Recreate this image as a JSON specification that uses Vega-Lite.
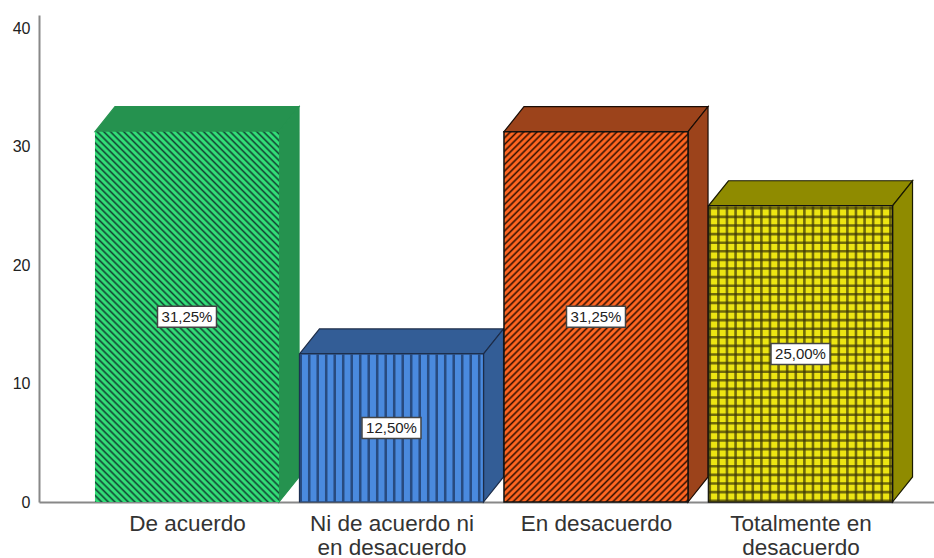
{"$schema":"https://vega.github.io/schema/vega-lite/v6.json","width":895,"height":487,"autosize":"none","padding":{"left":39,"top":15,"right":0,"bottom":56},"background":"white","config":{"view":{"stroke":null},"font":"Liberation Sans"},
"datasets":{"d":[{"cat":"De acuerdo","i":1,"pct":31.25,"label":"31,25%"},{"cat":"Ni de acuerdo ni en desacuerdo","i":2,"pct":12.5,"label":"12,50%"},{"cat":"En desacuerdo","i":3,"pct":31.25,"label":"31,25%"},{"cat":"Totalmente en desacuerdo","i":4,"pct":25,"label":"25,00%"}]},
"data":{"name":"d"},
"transform":[{"calculate":"datum.i-0.45","as":"a"},{"calculate":"datum.i+0.45","as":"b"},{"calculate":"0","as":"zero"},{"calculate":"datum.pct/2","as":"mid"}],
"resolve":{"scale":{"x":"shared","y":"shared"}},
"layer":[
{"transform":[{"calculate":"[datum.a,datum.a+0.0978,datum.b,datum.b+0.0978]","as":"xs"},{"calculate":"[datum.pct,datum.pct,datum.pct,datum.pct+2.11]","as":"lo"},{"calculate":"[datum.pct,datum.pct+2.11,datum.pct+2.11,datum.pct+2.11]","as":"hi"},{"flatten":["xs","lo","hi"]}],
"mark":{"type":"area","strokeWidth":1.2,"interpolate":"linear"},
"encoding":{"x":{"field":"xs","type":"quantitative","scale":{"domain":[0.2763,4.6528],"nice":false,"zero":false},"axis":{"values":[1,2,3,4],"title":null,"grid":false,"ticks":false,"domainColor":"#888888","domainWidth":2,"labelColor":"#333333","labelFont":"Liberation Sans","labelFontSize":22.5,"labelPadding":10,"labelLineHeight":24,"labelOverlap":false,"labelBound":false,"labelFlush":false,"labelBaseline":"top","labelExpr":"datum.value==1?'De acuerdo':datum.value==2?['Ni de acuerdo ni','en desacuerdo']:datum.value==3?'En desacuerdo':['Totalmente en','desacuerdo']"}},
"y":{"field":"lo","type":"quantitative","stack":null,"scale":{"domain":[0,41.1],"nice":false},"axis":{"values":[0,10,20,30,40],"title":null,"grid":false,"ticks":false,"domainColor":"#888888","domainWidth":2,"labelColor":"#222222","labelFont":"Liberation Sans","labelFontSize":16,"labelPadding":9}},"y2":{"field":"hi"},
"fill":{"field":"cat","type":"nominal","legend":null,"scale":{"domain":["De acuerdo","Ni de acuerdo ni en desacuerdo","En desacuerdo","Totalmente en desacuerdo"],"range":["#25924f","#335d96","#9c431b","#8f8b00"]}},
"stroke":{"field":"cat","type":"nominal","legend":null,"scale":{"domain":["De acuerdo","Ni de acuerdo ni en desacuerdo","En desacuerdo","Totalmente en desacuerdo"],"range":["#25924f","#1c2c48","#1a0c05","#1a1a00"]}}}},
{"transform":[{"calculate":"[datum.b,datum.b+0.0978]","as":"xs"},{"calculate":"[0,2.11]","as":"lo"},{"calculate":"[datum.pct,datum.pct+2.11]","as":"hi"},{"flatten":["xs","lo","hi"]}],
"mark":{"type":"area","strokeWidth":1.2,"interpolate":"linear"},
"encoding":{"x":{"field":"xs","type":"quantitative"},"y":{"field":"lo","type":"quantitative","stack":null},"y2":{"field":"hi"},
"fill":{"field":"cat","type":"nominal","legend":null},"stroke":{"field":"cat","type":"nominal","legend":null}}},
{"transform":[{"filter":"datum.i==1"}],"mark":{"type":"rect","fill":{"gradient":"linear","x1":0,"y1":1,"x2":0.5965,"y2":-0.2005,"stops":[{"offset":0,"color":"#143"},{"offset":0.004,"color":"#3d7"},{"offset":0.008,"color":"#3d7"},{"offset":0.012,"color":"#143"},{"offset":0.016,"color":"#3d7"},{"offset":0.02,"color":"#3d7"},{"offset":0.024,"color":"#143"},{"offset":0.028,"color":"#3d7"},{"offset":0.032,"color":"#3d7"},{"offset":0.036,"color":"#143"},{"offset":0.04,"color":"#3d7"},{"offset":0.044,"color":"#3d7"},{"offset":0.048,"color":"#143"},{"offset":0.052,"color":"#3d7"},{"offset":0.056,"color":"#3d7"},{"offset":0.06,"color":"#143"},{"offset":0.064,"color":"#3d7"},{"offset":0.068,"color":"#3d7"},{"offset":0.072,"color":"#143"},{"offset":0.076,"color":"#3d7"},{"offset":0.08,"color":"#3d7"},{"offset":0.084,"color":"#143"},{"offset":0.088,"color":"#3d7"},{"offset":0.092,"color":"#3d7"},{"offset":0.096,"color":"#143"},{"offset":0.1,"color":"#3d7"},{"offset":0.104,"color":"#3d7"},{"offset":0.108,"color":"#143"},{"offset":0.112,"color":"#3d7"},{"offset":0.116,"color":"#3d7"},{"offset":0.12,"color":"#143"},{"offset":0.124,"color":"#3d7"},{"offset":0.128,"color":"#3d7"},{"offset":0.132,"color":"#143"},{"offset":0.136,"color":"#3d7"},{"offset":0.14,"color":"#3d7"},{"offset":0.144,"color":"#143"},{"offset":0.148,"color":"#3d7"},{"offset":0.152,"color":"#3d7"},{"offset":0.156,"color":"#143"},{"offset":0.16,"color":"#3d7"},{"offset":0.164,"color":"#3d7"},{"offset":0.168,"color":"#143"},{"offset":0.172,"color":"#3d7"},{"offset":0.176,"color":"#3d7"},{"offset":0.18,"color":"#143"},{"offset":0.184,"color":"#3d7"},{"offset":0.188,"color":"#3d7"},{"offset":0.192,"color":"#143"},{"offset":0.196,"color":"#3d7"},{"offset":0.2,"color":"#3d7"},{"offset":0.204,"color":"#143"},{"offset":0.208,"color":"#3d7"},{"offset":0.212,"color":"#3d7"},{"offset":0.216,"color":"#143"},{"offset":0.22,"color":"#3d7"},{"offset":0.224,"color":"#3d7"},{"offset":0.228,"color":"#143"},{"offset":0.232,"color":"#3d7"},{"offset":0.236,"color":"#3d7"},{"offset":0.24,"color":"#143"},{"offset":0.244,"color":"#3d7"},{"offset":0.248,"color":"#3d7"},{"offset":0.252,"color":"#143"},{"offset":0.256,"color":"#3d7"},{"offset":0.26,"color":"#3d7"},{"offset":0.264,"color":"#143"},{"offset":0.268,"color":"#3d7"},{"offset":0.272,"color":"#3d7"},{"offset":0.276,"color":"#143"},{"offset":0.28,"color":"#3d7"},{"offset":0.284,"color":"#3d7"},{"offset":0.288,"color":"#143"},{"offset":0.292,"color":"#3d7"},{"offset":0.296,"color":"#3d7"},{"offset":0.3,"color":"#143"},{"offset":0.304,"color":"#3d7"},{"offset":0.308,"color":"#3d7"},{"offset":0.312,"color":"#143"},{"offset":0.316,"color":"#3d7"},{"offset":0.32,"color":"#3d7"},{"offset":0.324,"color":"#143"},{"offset":0.328,"color":"#3d7"},{"offset":0.332,"color":"#3d7"},{"offset":0.336,"color":"#143"},{"offset":0.34,"color":"#3d7"},{"offset":0.344,"color":"#3d7"},{"offset":0.348,"color":"#143"},{"offset":0.352,"color":"#3d7"},{"offset":0.356,"color":"#3d7"},{"offset":0.36,"color":"#143"},{"offset":0.364,"color":"#3d7"},{"offset":0.368,"color":"#3d7"},{"offset":0.372,"color":"#143"},{"offset":0.376,"color":"#3d7"},{"offset":0.38,"color":"#3d7"},{"offset":0.384,"color":"#143"},{"offset":0.388,"color":"#3d7"},{"offset":0.392,"color":"#3d7"},{"offset":0.396,"color":"#143"},{"offset":0.4,"color":"#3d7"},{"offset":0.404,"color":"#3d7"},{"offset":0.408,"color":"#143"},{"offset":0.412,"color":"#3d7"},{"offset":0.416,"color":"#3d7"},{"offset":0.42,"color":"#143"},{"offset":0.424,"color":"#3d7"},{"offset":0.428,"color":"#3d7"},{"offset":0.432,"color":"#143"},{"offset":0.436,"color":"#3d7"},{"offset":0.44,"color":"#3d7"},{"offset":0.444,"color":"#143"},{"offset":0.448,"color":"#3d7"},{"offset":0.452,"color":"#3d7"},{"offset":0.456,"color":"#143"},{"offset":0.46,"color":"#3d7"},{"offset":0.464,"color":"#3d7"},{"offset":0.468,"color":"#143"},{"offset":0.472,"color":"#3d7"},{"offset":0.476,"color":"#3d7"},{"offset":0.48,"color":"#143"},{"offset":0.484,"color":"#3d7"},{"offset":0.488,"color":"#3d7"},{"offset":0.492,"color":"#143"},{"offset":0.496,"color":"#3d7"},{"offset":0.5,"color":"#3d7"},{"offset":0.504,"color":"#143"},{"offset":0.508,"color":"#3d7"},{"offset":0.512,"color":"#3d7"},{"offset":0.516,"color":"#143"},{"offset":0.52,"color":"#3d7"},{"offset":0.524,"color":"#3d7"},{"offset":0.528,"color":"#143"},{"offset":0.532,"color":"#3d7"},{"offset":0.536,"color":"#3d7"},{"offset":0.54,"color":"#143"},{"offset":0.544,"color":"#3d7"},{"offset":0.548,"color":"#3d7"},{"offset":0.552,"color":"#143"},{"offset":0.556,"color":"#3d7"},{"offset":0.56,"color":"#3d7"},{"offset":0.564,"color":"#143"},{"offset":0.568,"color":"#3d7"},{"offset":0.572,"color":"#3d7"},{"offset":0.576,"color":"#143"},{"offset":0.58,"color":"#3d7"},{"offset":0.584,"color":"#3d7"},{"offset":0.588,"color":"#143"},{"offset":0.592,"color":"#3d7"},{"offset":0.596,"color":"#3d7"},{"offset":0.6,"color":"#143"},{"offset":0.604,"color":"#3d7"},{"offset":0.608,"color":"#3d7"},{"offset":0.612,"color":"#143"},{"offset":0.616,"color":"#3d7"},{"offset":0.62,"color":"#3d7"},{"offset":0.624,"color":"#143"},{"offset":0.628,"color":"#3d7"},{"offset":0.632,"color":"#3d7"},{"offset":0.636,"color":"#143"},{"offset":0.64,"color":"#3d7"},{"offset":0.644,"color":"#3d7"},{"offset":0.648,"color":"#143"},{"offset":0.652,"color":"#3d7"},{"offset":0.656,"color":"#3d7"},{"offset":0.66,"color":"#143"},{"offset":0.664,"color":"#3d7"},{"offset":0.668,"color":"#3d7"},{"offset":0.672,"color":"#143"},{"offset":0.676,"color":"#3d7"},{"offset":0.68,"color":"#3d7"},{"offset":0.684,"color":"#143"},{"offset":0.688,"color":"#3d7"},{"offset":0.692,"color":"#3d7"},{"offset":0.696,"color":"#143"},{"offset":0.7,"color":"#3d7"},{"offset":0.704,"color":"#3d7"},{"offset":0.708,"color":"#143"},{"offset":0.712,"color":"#3d7"},{"offset":0.716,"color":"#3d7"},{"offset":0.72,"color":"#143"},{"offset":0.724,"color":"#3d7"},{"offset":0.728,"color":"#3d7"},{"offset":0.732,"color":"#143"},{"offset":0.736,"color":"#3d7"},{"offset":0.74,"color":"#3d7"},{"offset":0.744,"color":"#143"},{"offset":0.748,"color":"#3d7"},{"offset":0.752,"color":"#3d7"},{"offset":0.756,"color":"#143"},{"offset":0.76,"color":"#3d7"},{"offset":0.764,"color":"#3d7"},{"offset":0.768,"color":"#143"},{"offset":0.772,"color":"#3d7"},{"offset":0.776,"color":"#3d7"},{"offset":0.78,"color":"#143"},{"offset":0.784,"color":"#3d7"},{"offset":0.788,"color":"#3d7"},{"offset":0.792,"color":"#143"},{"offset":0.796,"color":"#3d7"},{"offset":0.8,"color":"#3d7"},{"offset":0.804,"color":"#143"},{"offset":0.808,"color":"#3d7"},{"offset":0.812,"color":"#3d7"},{"offset":0.816,"color":"#143"},{"offset":0.82,"color":"#3d7"},{"offset":0.824,"color":"#3d7"},{"offset":0.828,"color":"#143"},{"offset":0.832,"color":"#3d7"},{"offset":0.836,"color":"#3d7"},{"offset":0.84,"color":"#143"},{"offset":0.844,"color":"#3d7"},{"offset":0.848,"color":"#3d7"},{"offset":0.852,"color":"#143"},{"offset":0.856,"color":"#3d7"},{"offset":0.86,"color":"#3d7"},{"offset":0.864,"color":"#143"},{"offset":0.868,"color":"#3d7"},{"offset":0.872,"color":"#3d7"},{"offset":0.876,"color":"#143"},{"offset":0.88,"color":"#3d7"},{"offset":0.884,"color":"#3d7"},{"offset":0.888,"color":"#143"},{"offset":0.892,"color":"#3d7"},{"offset":0.896,"color":"#3d7"},{"offset":0.9,"color":"#143"},{"offset":0.904,"color":"#3d7"},{"offset":0.908,"color":"#3d7"},{"offset":0.912,"color":"#143"},{"offset":0.916,"color":"#3d7"},{"offset":0.92,"color":"#3d7"},{"offset":0.924,"color":"#143"},{"offset":0.928,"color":"#3d7"},{"offset":0.932,"color":"#3d7"},{"offset":0.936,"color":"#143"},{"offset":0.94,"color":"#3d7"},{"offset":0.944,"color":"#3d7"},{"offset":0.948,"color":"#143"},{"offset":0.952,"color":"#3d7"},{"offset":0.956,"color":"#3d7"},{"offset":0.96,"color":"#143"},{"offset":0.964,"color":"#3d7"},{"offset":0.968,"color":"#3d7"},{"offset":0.972,"color":"#143"},{"offset":0.976,"color":"#3d7"},{"offset":0.98,"color":"#3d7"},{"offset":0.984,"color":"#143"},{"offset":0.988,"color":"#3d7"},{"offset":0.992,"color":"#3d7"},{"offset":0.996,"color":"#143"},{"offset":1,"color":"#3d7"}]}},"encoding":{"x":{"field":"a","type":"quantitative"},"x2":{"field":"b"},"y":{"field":"zero","type":"quantitative"},"y2":{"field":"pct"}}},
{"transform":[{"filter":"datum.i==3"}],"mark":{"type":"rect","stroke":"#111111","strokeWidth":1.5,"fill":{"gradient":"linear","x1":0,"y1":0,"x2":0.5965,"y2":1.2005,"stops":[{"offset":0,"color":"#310"},{"offset":0.004,"color":"#f62"},{"offset":0.008,"color":"#f62"},{"offset":0.012,"color":"#310"},{"offset":0.016,"color":"#f62"},{"offset":0.02,"color":"#f62"},{"offset":0.024,"color":"#310"},{"offset":0.028,"color":"#f62"},{"offset":0.032,"color":"#f62"},{"offset":0.036,"color":"#310"},{"offset":0.04,"color":"#f62"},{"offset":0.044,"color":"#f62"},{"offset":0.048,"color":"#310"},{"offset":0.052,"color":"#f62"},{"offset":0.056,"color":"#f62"},{"offset":0.06,"color":"#310"},{"offset":0.064,"color":"#f62"},{"offset":0.068,"color":"#f62"},{"offset":0.072,"color":"#310"},{"offset":0.076,"color":"#f62"},{"offset":0.08,"color":"#f62"},{"offset":0.084,"color":"#310"},{"offset":0.088,"color":"#f62"},{"offset":0.092,"color":"#f62"},{"offset":0.096,"color":"#310"},{"offset":0.1,"color":"#f62"},{"offset":0.104,"color":"#f62"},{"offset":0.108,"color":"#310"},{"offset":0.112,"color":"#f62"},{"offset":0.116,"color":"#f62"},{"offset":0.12,"color":"#310"},{"offset":0.124,"color":"#f62"},{"offset":0.128,"color":"#f62"},{"offset":0.132,"color":"#310"},{"offset":0.136,"color":"#f62"},{"offset":0.14,"color":"#f62"},{"offset":0.144,"color":"#310"},{"offset":0.148,"color":"#f62"},{"offset":0.152,"color":"#f62"},{"offset":0.156,"color":"#310"},{"offset":0.16,"color":"#f62"},{"offset":0.164,"color":"#f62"},{"offset":0.168,"color":"#310"},{"offset":0.172,"color":"#f62"},{"offset":0.176,"color":"#f62"},{"offset":0.18,"color":"#310"},{"offset":0.184,"color":"#f62"},{"offset":0.188,"color":"#f62"},{"offset":0.192,"color":"#310"},{"offset":0.196,"color":"#f62"},{"offset":0.2,"color":"#f62"},{"offset":0.204,"color":"#310"},{"offset":0.208,"color":"#f62"},{"offset":0.212,"color":"#f62"},{"offset":0.216,"color":"#310"},{"offset":0.22,"color":"#f62"},{"offset":0.224,"color":"#f62"},{"offset":0.228,"color":"#310"},{"offset":0.232,"color":"#f62"},{"offset":0.236,"color":"#f62"},{"offset":0.24,"color":"#310"},{"offset":0.244,"color":"#f62"},{"offset":0.248,"color":"#f62"},{"offset":0.252,"color":"#310"},{"offset":0.256,"color":"#f62"},{"offset":0.26,"color":"#f62"},{"offset":0.264,"color":"#310"},{"offset":0.268,"color":"#f62"},{"offset":0.272,"color":"#f62"},{"offset":0.276,"color":"#310"},{"offset":0.28,"color":"#f62"},{"offset":0.284,"color":"#f62"},{"offset":0.288,"color":"#310"},{"offset":0.292,"color":"#f62"},{"offset":0.296,"color":"#f62"},{"offset":0.3,"color":"#310"},{"offset":0.304,"color":"#f62"},{"offset":0.308,"color":"#f62"},{"offset":0.312,"color":"#310"},{"offset":0.316,"color":"#f62"},{"offset":0.32,"color":"#f62"},{"offset":0.324,"color":"#310"},{"offset":0.328,"color":"#f62"},{"offset":0.332,"color":"#f62"},{"offset":0.336,"color":"#310"},{"offset":0.34,"color":"#f62"},{"offset":0.344,"color":"#f62"},{"offset":0.348,"color":"#310"},{"offset":0.352,"color":"#f62"},{"offset":0.356,"color":"#f62"},{"offset":0.36,"color":"#310"},{"offset":0.364,"color":"#f62"},{"offset":0.368,"color":"#f62"},{"offset":0.372,"color":"#310"},{"offset":0.376,"color":"#f62"},{"offset":0.38,"color":"#f62"},{"offset":0.384,"color":"#310"},{"offset":0.388,"color":"#f62"},{"offset":0.392,"color":"#f62"},{"offset":0.396,"color":"#310"},{"offset":0.4,"color":"#f62"},{"offset":0.404,"color":"#f62"},{"offset":0.408,"color":"#310"},{"offset":0.412,"color":"#f62"},{"offset":0.416,"color":"#f62"},{"offset":0.42,"color":"#310"},{"offset":0.424,"color":"#f62"},{"offset":0.428,"color":"#f62"},{"offset":0.432,"color":"#310"},{"offset":0.436,"color":"#f62"},{"offset":0.44,"color":"#f62"},{"offset":0.444,"color":"#310"},{"offset":0.448,"color":"#f62"},{"offset":0.452,"color":"#f62"},{"offset":0.456,"color":"#310"},{"offset":0.46,"color":"#f62"},{"offset":0.464,"color":"#f62"},{"offset":0.468,"color":"#310"},{"offset":0.472,"color":"#f62"},{"offset":0.476,"color":"#f62"},{"offset":0.48,"color":"#310"},{"offset":0.484,"color":"#f62"},{"offset":0.488,"color":"#f62"},{"offset":0.492,"color":"#310"},{"offset":0.496,"color":"#f62"},{"offset":0.5,"color":"#f62"},{"offset":0.504,"color":"#310"},{"offset":0.508,"color":"#f62"},{"offset":0.512,"color":"#f62"},{"offset":0.516,"color":"#310"},{"offset":0.52,"color":"#f62"},{"offset":0.524,"color":"#f62"},{"offset":0.528,"color":"#310"},{"offset":0.532,"color":"#f62"},{"offset":0.536,"color":"#f62"},{"offset":0.54,"color":"#310"},{"offset":0.544,"color":"#f62"},{"offset":0.548,"color":"#f62"},{"offset":0.552,"color":"#310"},{"offset":0.556,"color":"#f62"},{"offset":0.56,"color":"#f62"},{"offset":0.564,"color":"#310"},{"offset":0.568,"color":"#f62"},{"offset":0.572,"color":"#f62"},{"offset":0.576,"color":"#310"},{"offset":0.58,"color":"#f62"},{"offset":0.584,"color":"#f62"},{"offset":0.588,"color":"#310"},{"offset":0.592,"color":"#f62"},{"offset":0.596,"color":"#f62"},{"offset":0.6,"color":"#310"},{"offset":0.604,"color":"#f62"},{"offset":0.608,"color":"#f62"},{"offset":0.612,"color":"#310"},{"offset":0.616,"color":"#f62"},{"offset":0.62,"color":"#f62"},{"offset":0.624,"color":"#310"},{"offset":0.628,"color":"#f62"},{"offset":0.632,"color":"#f62"},{"offset":0.636,"color":"#310"},{"offset":0.64,"color":"#f62"},{"offset":0.644,"color":"#f62"},{"offset":0.648,"color":"#310"},{"offset":0.652,"color":"#f62"},{"offset":0.656,"color":"#f62"},{"offset":0.66,"color":"#310"},{"offset":0.664,"color":"#f62"},{"offset":0.668,"color":"#f62"},{"offset":0.672,"color":"#310"},{"offset":0.676,"color":"#f62"},{"offset":0.68,"color":"#f62"},{"offset":0.684,"color":"#310"},{"offset":0.688,"color":"#f62"},{"offset":0.692,"color":"#f62"},{"offset":0.696,"color":"#310"},{"offset":0.7,"color":"#f62"},{"offset":0.704,"color":"#f62"},{"offset":0.708,"color":"#310"},{"offset":0.712,"color":"#f62"},{"offset":0.716,"color":"#f62"},{"offset":0.72,"color":"#310"},{"offset":0.724,"color":"#f62"},{"offset":0.728,"color":"#f62"},{"offset":0.732,"color":"#310"},{"offset":0.736,"color":"#f62"},{"offset":0.74,"color":"#f62"},{"offset":0.744,"color":"#310"},{"offset":0.748,"color":"#f62"},{"offset":0.752,"color":"#f62"},{"offset":0.756,"color":"#310"},{"offset":0.76,"color":"#f62"},{"offset":0.764,"color":"#f62"},{"offset":0.768,"color":"#310"},{"offset":0.772,"color":"#f62"},{"offset":0.776,"color":"#f62"},{"offset":0.78,"color":"#310"},{"offset":0.784,"color":"#f62"},{"offset":0.788,"color":"#f62"},{"offset":0.792,"color":"#310"},{"offset":0.796,"color":"#f62"},{"offset":0.8,"color":"#f62"},{"offset":0.804,"color":"#310"},{"offset":0.808,"color":"#f62"},{"offset":0.812,"color":"#f62"},{"offset":0.816,"color":"#310"},{"offset":0.82,"color":"#f62"},{"offset":0.824,"color":"#f62"},{"offset":0.828,"color":"#310"},{"offset":0.832,"color":"#f62"},{"offset":0.836,"color":"#f62"},{"offset":0.84,"color":"#310"},{"offset":0.844,"color":"#f62"},{"offset":0.848,"color":"#f62"},{"offset":0.852,"color":"#310"},{"offset":0.856,"color":"#f62"},{"offset":0.86,"color":"#f62"},{"offset":0.864,"color":"#310"},{"offset":0.868,"color":"#f62"},{"offset":0.872,"color":"#f62"},{"offset":0.876,"color":"#310"},{"offset":0.88,"color":"#f62"},{"offset":0.884,"color":"#f62"},{"offset":0.888,"color":"#310"},{"offset":0.892,"color":"#f62"},{"offset":0.896,"color":"#f62"},{"offset":0.9,"color":"#310"},{"offset":0.904,"color":"#f62"},{"offset":0.908,"color":"#f62"},{"offset":0.912,"color":"#310"},{"offset":0.916,"color":"#f62"},{"offset":0.92,"color":"#f62"},{"offset":0.924,"color":"#310"},{"offset":0.928,"color":"#f62"},{"offset":0.932,"color":"#f62"},{"offset":0.936,"color":"#310"},{"offset":0.94,"color":"#f62"},{"offset":0.944,"color":"#f62"},{"offset":0.948,"color":"#310"},{"offset":0.952,"color":"#f62"},{"offset":0.956,"color":"#f62"},{"offset":0.96,"color":"#310"},{"offset":0.964,"color":"#f62"},{"offset":0.968,"color":"#f62"},{"offset":0.972,"color":"#310"},{"offset":0.976,"color":"#f62"},{"offset":0.98,"color":"#f62"},{"offset":0.984,"color":"#310"},{"offset":0.988,"color":"#f62"},{"offset":0.992,"color":"#f62"},{"offset":0.996,"color":"#310"},{"offset":1,"color":"#f62"}]}},"encoding":{"x":{"field":"a","type":"quantitative"},"x2":{"field":"b"},"y":{"field":"zero","type":"quantitative"},"y2":{"field":"pct"}}},
{"transform":[{"filter":"datum.i==2"}],"mark":{"type":"rect","fill":"#4a8ade","stroke":"#1c2c48","strokeWidth":1.2},"encoding":{"x":{"field":"a","type":"quantitative"},"x2":{"field":"b"},"y":{"field":"zero","type":"quantitative"},"y2":{"field":"pct"}}},
{"transform":[{"filter":"datum.i==2"}],"mark":{"type":"rule","stroke":"#1f3b66","strokeOpacity":0.8,"strokeWidth":147,"strokeDash":[2.5,6]},"encoding":{"x":{"field":"a","type":"quantitative"},"x2":{"field":"b"},"y":{"field":"mid","type":"quantitative"}}},
{"transform":[{"filter":"datum.i==4"}],"mark":{"type":"rect","fill":"#ede512","stroke":"#111111","strokeWidth":1.5},"encoding":{"x":{"field":"a","type":"quantitative"},"x2":{"field":"b"},"y":{"field":"zero","type":"quantitative"},"y2":{"field":"pct"}}},
{"transform":[{"filter":"datum.i==4"}],"mark":{"type":"rule","stroke":"#3a3608","strokeOpacity":0.7,"strokeDash":[2.6,6]},"encoding":{"x":{"field":"i","type":"quantitative"},"y":{"field":"zero","type":"quantitative"},"y2":{"field":"pct"},"size":{"value":183}}},
{"transform":[{"filter":"datum.i==4"}],"mark":{"type":"rule","stroke":"#3a3608","strokeOpacity":0.7,"strokeDash":[2.6,6]},"encoding":{"x":{"field":"a","type":"quantitative"},"x2":{"field":"b"},"y":{"field":"mid","type":"quantitative"},"size":{"value":295}}},
{"mark":{"type":"rect","fill":"white","stroke":"#444444","strokeWidth":1.5,"width":59,"height":21},"encoding":{"x":{"field":"i","type":"quantitative"},"y":{"field":"mid","type":"quantitative"}}},
{"mark":{"type":"text","font":"Liberation Sans","fontSize":15,"color":"#222222","baseline":"middle","align":"center"},"encoding":{"x":{"field":"i","type":"quantitative"},"y":{"field":"mid","type":"quantitative"},"text":{"field":"label","type":"nominal"}}}
]}
